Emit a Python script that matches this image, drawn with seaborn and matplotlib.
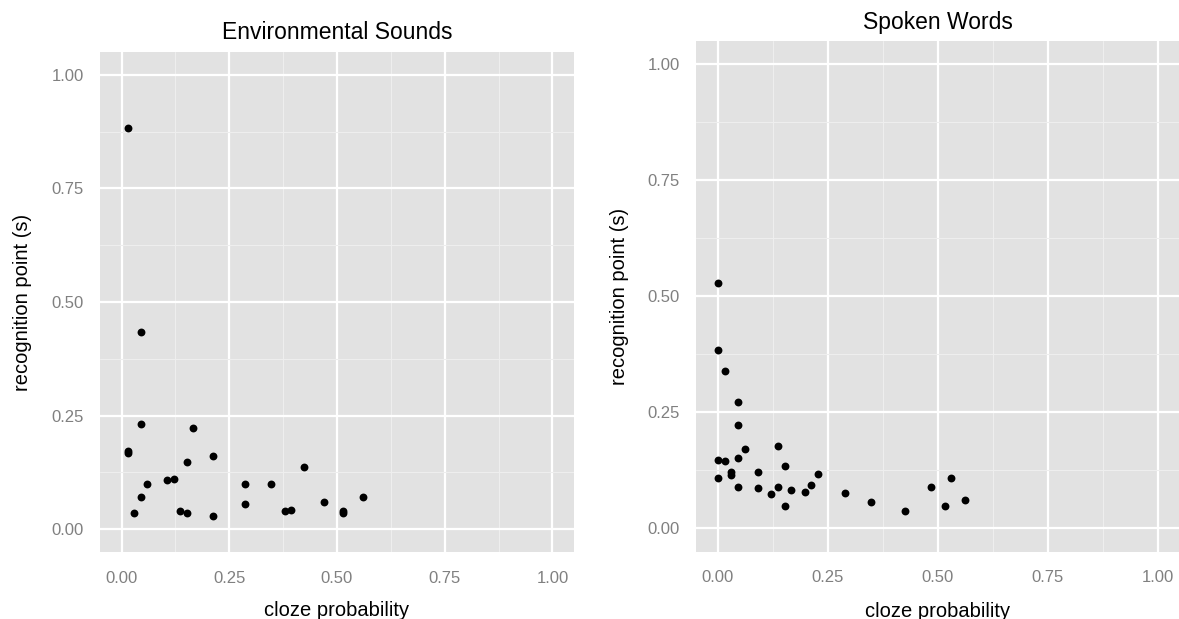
import matplotlib
matplotlib.use("Agg")
import matplotlib.pyplot as plt
import seaborn as sns
import numpy as np

# cloze probability vs recognition point
env_cloze = [0.015, 0.015, 0.015, 0.045, 0.045, 0.166, 0.213, 0.152, 0.424, 0.060,
             0.106, 0.121, 0.287, 0.348, 0.045, 0.561, 0.469, 0.287, 0.030, 0.136,
             0.152, 0.213, 0.379, 0.394, 0.515, 0.515]
env_rp = [0.882, 0.172, 0.167, 0.435, 0.232, 0.222, 0.161, 0.147, 0.137, 0.100,
          0.108, 0.111, 0.100, 0.099, 0.070, 0.070, 0.059, 0.055, 0.035, 0.040,
          0.036, 0.029, 0.040, 0.043, 0.036, 0.040]

sw_cloze = [0.0, 0.0, 0.015, 0.045, 0.045, 0.061, 0.136, 0.0, 0.015, 0.045,
            0.152, 0.030, 0.030, 0.091, 0.227, 0.0, 0.530, 0.045, 0.091, 0.485,
            0.136, 0.212, 0.121, 0.167, 0.197, 0.288, 0.348, 0.424, 0.152, 0.515,
            0.561]
sw_rp = [0.528, 0.384, 0.338, 0.273, 0.223, 0.172, 0.177, 0.147, 0.144, 0.152,
         0.135, 0.121, 0.115, 0.121, 0.117, 0.108, 0.108, 0.088, 0.086, 0.088,
         0.090, 0.093, 0.074, 0.082, 0.078, 0.077, 0.057, 0.038, 0.048, 0.048,
         0.060]

ticks = [0.0, 0.25, 0.5, 0.75, 1.0]
tick_labels = ["0.00", "0.25", "0.50", "0.75", "1.00"]
minor_ticks = [0.125, 0.375, 0.625, 0.875]

sns.set_theme(style="white")
plt.rcParams["font.family"] = ["Liberation Sans", "DejaVu Sans"]

fig = plt.figure(figsize=(11.79, 6.19), dpi=100)
ax1 = fig.add_axes([0.0848, 0.1082, 0.402, 0.8078])
ax2 = fig.add_axes([0.5903, 0.109, 0.4105, 0.8247])


def ggplot_panel(ax, x, y, title, title_pad):
    ax.set_facecolor("#E2E2E2")
    for s in ax.spines.values():
        s.set_visible(False)
    ax.set_xlim(-0.05, 1.05)
    ax.set_ylim(-0.05, 1.05)
    ax.set_xticks(ticks)
    ax.set_xticklabels(tick_labels)
    ax.set_yticks(ticks)
    ax.set_yticklabels(tick_labels)
    ax.set_xticks(minor_ticks, minor=True)
    ax.set_yticks(minor_ticks, minor=True)
    ax.grid(which="major", color="white", linewidth=1.6)
    ax.grid(which="minor", color="#EEEEEE", linewidth=0.8)
    ax.set_axisbelow(True)
    ax.tick_params(which="major", length=3.5, width=0.9, color="#808080",
                   labelcolor="#808080", labelsize=12)
    ax.tick_params(axis="y", pad=8)
    ax.tick_params(axis="x", pad=10)
    ax.tick_params(which="minor", length=0)
    sns.scatterplot(x=x, y=y, ax=ax, color="black", s=32, linewidth=0)
    ax.set_xlabel("cloze probability", fontsize=14.5, color="black")
    ax.set_ylabel("recognition point (s)", fontsize=14.5, color="black")
    ax.set_title(title, fontsize=16.5, color="black", pad=title_pad)


ggplot_panel(ax1, env_cloze, env_rp, "Environmental Sounds", 9)
ggplot_panel(ax2, sw_cloze, sw_rp, "Spoken Words", 9)

ax1.xaxis.set_label_coords(0.5, -0.098)
ax2.xaxis.set_label_coords(0.5, -0.098)
ax1.yaxis.set_label_coords(-0.143, 0.5)
ax2.yaxis.set_label_coords(-0.138, 0.5)

fig.savefig("out.png", dpi=100)
